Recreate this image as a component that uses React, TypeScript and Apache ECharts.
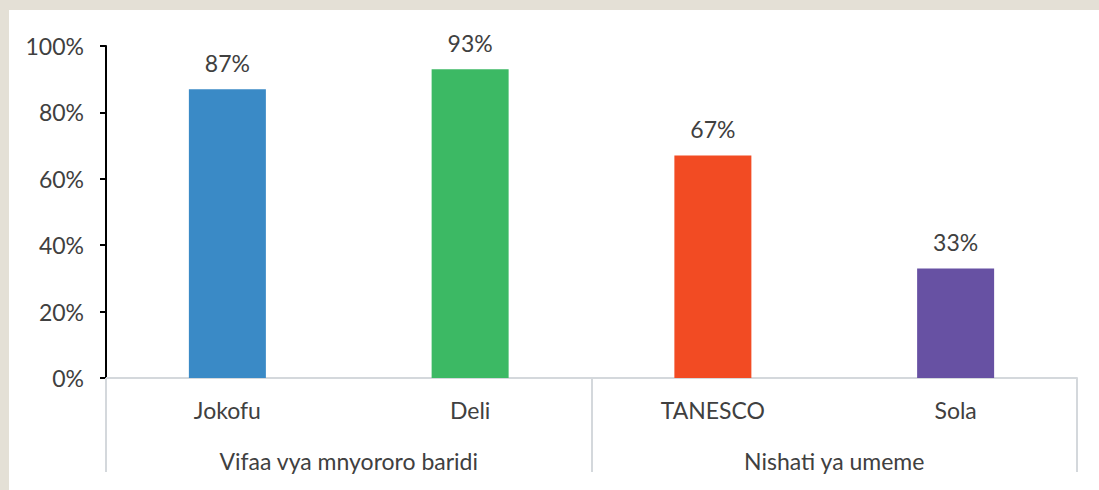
import React, { useEffect, useRef } from "react";
import * as echarts from "echarts";

const categories = ["Jokofu", "Deli", "TANESCO", "Sola"];
const groups = ["Vifaa vya mnyororo baridi", "Nishati ya umeme"];
const values = [87, 93, 67, 33];
const barColors = ["#3a8ac6", "#3cb964", "#f24b23", "#6751a3"];

const FONT = "Lato";
const TEXT = "#404040";
const GRID_GRAY = "#d4d8dc";
const FS = 23;

export default function App() {
  const ref = useRef<HTMLDivElement>(null);
  useEffect(() => {
    if (!ref.current) return;
    const chart = echarts.init(ref.current, undefined, { renderer: "svg" });
    chart.setOption({
      animation: false,
      backgroundColor: "#ffffff",
      textStyle: { fontFamily: FONT },
      grid: { left: 97, right: 22, top: 36, bottom: 112, containLabel: false },
      xAxis: [
        {
          type: "category",
          data: categories,
          position: "bottom",
          axisLine: { show: true, lineStyle: { color: GRID_GRAY, width: 2 } },
          axisTick: { show: false },
          axisLabel: { margin: 20, color: TEXT, fontSize: FS, fontFamily: FONT },
        },
        {
          type: "category",
          data: groups,
          position: "bottom",
          offset: 0,
          axisLine: { show: false },
          axisTick: { show: true, length: 94, lineStyle: { color: GRID_GRAY, width: 2 } },
          axisLabel: { margin: 71, color: TEXT, fontSize: FS, fontFamily: FONT },
        },
      ],
      yAxis: {
        type: "value",
        min: 0,
        max: 100,
        interval: 20,
        axisLine: { show: true, lineStyle: { color: "#000000", width: 2 } },
        axisTick: { show: true, length: 6, lineStyle: { color: "#000000", width: 2 } },
        splitLine: { show: false },
        axisLabel: { formatter: "{value}%", margin: 22, color: TEXT, fontSize: FS, fontFamily: FONT },
      },
      series: [
        {
          type: "bar",
          xAxisIndex: 0,
          barWidth: 77,
          data: values.map((v, i) => ({ value: v, itemStyle: { color: barColors[i] } })),
          label: {
            show: true,
            position: "top",
            distance: 15,
            formatter: "{c}%",
            color: TEXT,
            fontSize: FS,
            fontFamily: FONT,
          },
        },
      ],
    });
    return () => chart.dispose();
  }, []);
  return (
    <div style={{ position: "fixed", left: 0, top: 0, width: 1099, height: 490, background: "#e4e0d6" }}>
      <div
        ref={ref}
        style={{ position: "absolute", left: 9, top: 10, width: 1090, height: 480, background: "#ffffff" }}
      />
    </div>
  );
}
